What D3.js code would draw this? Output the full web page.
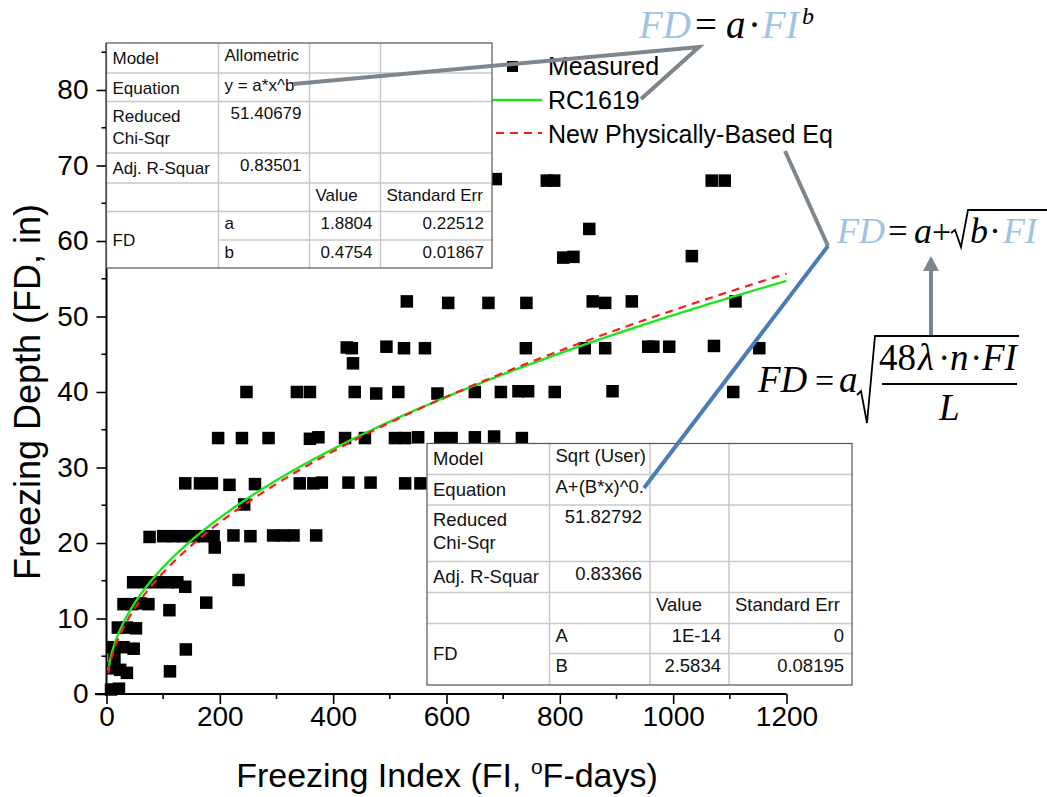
<!DOCTYPE html>
<html>
<head>
<meta charset="utf-8">
<script src="https://cdn.jsdelivr.net/npm/d3@7"></script>
<style>
  html, body { margin: 0; padding: 0; background: #fff; }
  svg { display: block; }
  .sans { font-family: "Liberation Sans", Arial, sans-serif; }
  .serif { font-family: "Liberation Serif", "Times New Roman", serif; }
</style>
</head>
<body>
<script>
// Measured freezing depth (in) against freezing index (°F-days)
const measuredFI = [
  687, 777, 790, 1068, 1091,
  852,
  806, 824, 1033,
  530, 603, 674, 741, 858, 880, 927, 1110,
  424, 433, 494, 525, 562, 740, 844, 880, 956, 965, 993, 1072, 1152,
  435,
  247, 336, 359, 438, 476, 515, 584, 650, 696, 727, 744, 791, 893, 1106,
  197, 239, 286, 359, 374, 421, 456, 509, 527, 550, 589, 609, 650, 684, 733,
  139, 165, 186, 217, 262, 341, 365, 380, 427, 466, 527, 554,
  243,
  76, 100, 118, 136, 154, 172, 189, 191, 224, 254, 294, 312, 330, 370,
  47, 67, 88, 108, 125, 139, 233,
  30, 45, 60, 74, 111, 176,
  20, 36, 52,
  12, 30, 48, 140,
  10, 24, 36, 14, 112,
  8, 22
];
const measuredFD = [
  68.2, 68, 68, 68, 68,
  61.6,
  57.8, 57.9, 58,
  52, 51.8, 51.8, 51.8, 52, 51.8, 52, 52,
  45.9, 45.8, 46, 45.8, 45.8, 45.8, 45.8, 45.8, 46, 46, 46, 46.1, 45.8,
  43.8,
  40, 40, 40, 40, 39.8, 40, 39.8, 40, 40, 40.1, 40.1, 40, 40.1, 40,
  33.9, 33.9, 33.9, 33.8, 34, 33.9, 33.9, 33.9, 33.9, 34, 33.9, 33.9, 34, 34.1, 33.9,
  27.9, 27.9, 27.9, 27.7, 27.8, 27.9, 27.9, 28, 28, 28, 27.9, 27.9,
  25.1,
  20.8, 20.9, 20.9, 20.9, 20.9, 20.9, 20.9, 19.4, 21, 20.9, 21, 21, 21, 21,
  14.8, 14.8, 14.8, 14.8, 14.8, 14.2, 15.1,
  11.9, 11.9, 12, 11.9, 11.1, 12.1,
  8.8, 8.8, 8.7,
  6.2, 6.2, 6.0, 5.9,
  3.4, 3.2, 2.8, 4.8, 3.0,
  0.6, 0.7
];

// Fitted parameters
const allometricParams = { a: 1.8804, b: 0.4754 };   // RC1619: FD = a*FI^b
const sqrtParams = { A: 1e-14, B: 2.5834 };           // FD = A + sqrt(B*FI)

const xTicks = [0, 200, 400, 600, 800, 1000, 1200];
const xMinor = [100, 300, 500, 700, 900, 1100];
const yTicks = [0, 10, 20, 30, 40, 50, 60, 70, 80];
const yMinor = [5, 15, 25, 35, 45, 55, 65, 75, 85];

const legendLabels = ["Measured", "RC1619", "New Physically-Based Eq"];

// Fit-statistics tables
const allometricTable = [
  ["Model", "Allometric", "", ""],
  ["Equation", "y = a*x^b", "", ""],
  ["Reduced\nChi-Sqr", "51.40679", "", ""],
  ["Adj. R-Squar", "0.83501", "", ""],
  ["", "", "Value", "Standard Err"],
  ["FD", "a", "1.8804", "0.22512"],
  ["", "b", "0.4754", "0.01867"]
];
const sqrtTable = [
  ["Model", "Sqrt (User)", "", ""],
  ["Equation", "A+(B*x)^0.", "", ""],
  ["Reduced\nChi-Sqr", "51.82792", "", ""],
  ["Adj. R-Squar", "0.83366", "", ""],
  ["", "", "Value", "Standard Err"],
  ["FD", "A", "1E-14", "0"],
  ["", "B", "2.5834", "0.08195"]
];

const W = 1047, H = 797;
const svg = d3.select("body").append("svg").attr("width", W).attr("height", H);

const x = d3.scaleLinear().domain([0, 1200]).range([106.5, 786.5]);
const y = d3.scaleLinear().domain([0, 80]).range([694, 90]);

// ---- axes ----
const axisColor = "#000";
const gx = svg.append("g").attr("transform", `translate(0,${y(0)})`);
gx.append("line").attr("x1", 95).attr("x2", x(1200)).attr("y1", 0).attr("y2", 0)
  .attr("stroke", axisColor).attr("stroke-width", 2);
gx.call(d3.axisBottom(x).tickValues(xTicks).tickSize(10).tickFormat(d3.format("d")))
  .call(g => g.select(".domain").remove())
  .call(g => g.selectAll(".tick line").attr("stroke", axisColor).attr("stroke-width", 1.6))
  .call(g => g.selectAll(".tick text").attr("class", "sans").attr("font-size", 28)
      .attr("fill", "#000").attr("dy", "0.68em").attr("y", 13));
gx.selectAll(".minor").data(xMinor).enter().append("line")
  .attr("x1", d => x(d)).attr("x2", d => x(d)).attr("y1", 0).attr("y2", 5)
  .attr("stroke", axisColor).attr("stroke-width", 1.6);

const gy = svg.append("g").attr("transform", `translate(${x(0)},0)`);
gy.append("line").attr("x1", 0).attr("x2", 0).attr("y1", y(0) + 1).attr("y2", 43)
  .attr("stroke", axisColor).attr("stroke-width", 2);
gy.call(d3.axisLeft(y).tickValues(yTicks).tickSize(10).tickFormat(d3.format("d")))
  .call(g => g.select(".domain").remove())
  .call(g => g.selectAll(".tick line").attr("stroke", axisColor).attr("stroke-width", 1.6))
  .call(g => g.selectAll(".tick text").attr("class", "sans").attr("font-size", 28)
      .attr("fill", "#000").attr("x", -18));
gy.selectAll(".minor").data(yMinor).enter().append("line")
  .attr("x1", 0).attr("x2", -5).attr("y1", d => y(d)).attr("y2", d => y(d))
  .attr("stroke", axisColor).attr("stroke-width", 1.6);

// axis titles
svg.append("text").attr("class", "sans").attr("font-size", 34)
  .attr("x", 447).attr("y", 787).attr("text-anchor", "middle")
  .html('Freezing Index (FI, <tspan font-size="21" dy="-13">o</tspan><tspan dy="13">F-days)</tspan>');
svg.append("text").attr("class", "sans").attr("font-size", 36)
  .attr("transform", "translate(40,392) rotate(-90)").attr("text-anchor", "middle")
  .text("Freezing Depth (FD, in)");

// ---- measured points ----
const pts = measuredFI.map((v, i) => ({ fi: v, fd: measuredFD[i] }));
const sq = 12.5;
svg.append("g").selectAll("rect").data(pts).enter().append("rect")
  .attr("x", d => x(d.fi) - sq / 2).attr("y", d => y(d.fd) - sq / 2)
  .attr("width", sq).attr("height", sq).attr("fill", "#000");

// ---- fitted curves ----
const fiGrid = d3.range(3, 1200.1, 3);
const green = "#1ee61e", red = "#ff1a1a";
const line = d3.line().x(d => x(d[0])).y(d => y(d[1]));
svg.append("path")
  .attr("d", line(fiGrid.map(f => [f, allometricParams.a * Math.pow(f, allometricParams.b)])))
  .attr("fill", "none").attr("stroke", green).attr("stroke-width", 2.4);
svg.append("path")
  .attr("d", line(fiGrid.map(f => [f, sqrtParams.A + Math.sqrt(sqrtParams.B * f)])))
  .attr("fill", "none").attr("stroke", red).attr("stroke-width", 2.2)
  .attr("stroke-dasharray", "8,6");

// ---- legend ----
const lg = svg.append("g");
lg.append("rect").attr("x", 507).attr("y", 61).attr("width", 11).attr("height", 11).attr("fill", "#000");
lg.append("line").attr("x1", 482).attr("x2", 542).attr("y1", 100).attr("y2", 100)
  .attr("stroke", green).attr("stroke-width", 2.4);
lg.append("line").attr("x1", 482).attr("x2", 542).attr("y1", 133).attr("y2", 133)
  .attr("stroke", red).attr("stroke-width", 2.2).attr("stroke-dasharray", "8,6");
lg.selectAll("text").data(legendLabels).enter().append("text")
  .attr("class", "sans").attr("font-size", 25).attr("x", 548)
  .attr("y", (d, i) => 75 + i * 34).text(d => d);

// ---- tables ----
function drawTable(rows, cols, rowsY, fs, offs) {
  const g = svg.append("g");
  const x0 = cols[0], x1 = cols[cols.length - 1], y0 = rowsY[0], y1 = rowsY[rowsY.length - 1];
  g.append("rect").attr("x", x0).attr("y", y0).attr("width", x1 - x0).attr("height", y1 - y0)
    .attr("fill", "#fff");
  const grid = "#c8c8c8";
  // horizontal rules
  rowsY.slice(1, -1).forEach((ry, i) => {
    const startX = (i === rowsY.length - 3) ? cols[1] : x0; // merged "FD" cell
    g.append("line").attr("x1", startX).attr("x2", x1).attr("y1", ry).attr("y2", ry)
      .attr("stroke", grid).attr("stroke-width", 1.5);
  });
  cols.slice(1, -1).forEach(cx => {
    g.append("line").attr("x1", cx).attr("x2", cx).attr("y1", y0).attr("y2", y1)
      .attr("stroke", grid).attr("stroke-width", 1.5);
  });
  g.append("rect").attr("x", x0).attr("y", y0).attr("width", x1 - x0).attr("height", y1 - y0)
    .attr("fill", "none").attr("stroke", "#555").attr("stroke-width", 1.2);

  rows.forEach((row, r) => {
    row.forEach((txt, c) => {
      if (!txt) return;
      const top = rowsY[r];
      const numeric = /^[0-9.E-]+$/.test(txt) && c > 0;
      let yy = top + (c === 0 ? offs.label : offs.value);
      if (c === 0 && txt === "FD") yy = (rowsY[r] + rowsY[r + 2]) / 2 + 6;
      const t = g.append("text").attr("class", "sans").attr("font-size", fs).attr("fill", "#111");
      if (numeric) t.attr("x", cols[c + 1] - 8).attr("text-anchor", "end");
      else t.attr("x", cols[c] + 6);
      const parts = txt.split("\n");
      parts.forEach((p, k) => {
        t.append("tspan").attr("x", numeric ? cols[c + 1] - 8 : cols[c] + 6)
          .attr("y", yy + k * offs.lead).text(p);
      });
    });
  });
}
drawTable(allometricTable, [106.5, 218.5, 309.5, 380.5, 492], [43, 73, 101.5, 153, 183, 211.5, 240, 268],
  17, { label: 20.5, value: 17.5, lead: 21.5 });
drawTable(sqrtTable, [427, 549.5, 650, 729, 852], [443.5, 474.5, 505, 561.5, 592.5, 623.5, 653.5, 685],
  18.5, { label: 21, value: 18, lead: 23 });

// ---- annotation connectors ----
const gray = "#7d858d", blue = "#4a7db5";
svg.append("polyline").attr("points", "293,84 699,47 641,99")
  .attr("fill", "none").attr("stroke", gray).attr("stroke-width", 4).attr("stroke-linejoin", "miter");
svg.append("line").attr("x1", 785).attr("y1", 151).attr("x2", 828).attr("y2", 246)
  .attr("stroke", gray).attr("stroke-width", 4);
svg.append("line").attr("x1", 828).attr("y1", 246).attr("x2", 644).attr("y2", 488)
  .attr("stroke", blue).attr("stroke-width", 4);
svg.append("line").attr("x1", 931).attr("y1", 336).attr("x2", 931).attr("y2", 268)
  .attr("stroke", gray).attr("stroke-width", 4);
svg.append("path").attr("d", "M923,271 L939,271 L931,256 Z").attr("fill", gray);

// ---- formulas ----
const lightBlue = "#9dc3e6";
function ftext(xp, yp, s, fs, col, ital) {
  return svg.append("text").attr("class", "serif").attr("x", xp).attr("y", yp)
    .attr("font-size", fs).attr("fill", col || "#000")
    .attr("font-style", ital === false ? "normal" : "italic").text(s);
}
// FD = a·FI^b
ftext(639, 38, "FD", 39, lightBlue);
ftext(695, 38, "=", 39, "#000", false);
ftext(726, 38, "a", 39);
ftext(748, 38, "·", 39, "#000", false);
ftext(762, 38, "FI", 39, lightBlue);
ftext(802, 24, "b", 24);

// FD = a + sqrt(b·FI)
ftext(837, 243, "FD", 36, lightBlue);
ftext(888, 243, "=", 35, "#000", false);
ftext(914, 243, "a", 36);
ftext(932, 243, "+", 34, "#000", false);
svg.append("path").attr("d", "M951,233 L955,230 L961,247 L968,210 L1047,210")
  .attr("fill", "none").attr("stroke", "#000").attr("stroke-width", 1.8);
ftext(970, 243, "b", 36);
ftext(989, 243, "·", 36, "#000", false);
ftext(1003, 243, "FI", 36, lightBlue);

// FD = a sqrt(48λ·n·FI / L)
ftext(758, 392, "FD", 37);
ftext(815, 392, "=", 34, "#000", false);
ftext(839, 392, "a", 37);
svg.append("path").attr("d", "M857,395 L861,391 L867,423 L875,336 L1019,336")
  .attr("fill", "none").attr("stroke", "#000").attr("stroke-width", 1.8);
ftext(879, 370, "48", 37, "#000", false);
ftext(918, 370, "λ", 37);
ftext(938, 370, "·", 37, "#000", false);
ftext(950, 370, "n", 37);
ftext(970, 370, "·", 37, "#000", false);
ftext(982, 370, "FI", 37);
svg.append("line").attr("x1", 882).attr("x2", 1017).attr("y1", 384).attr("y2", 384)
  .attr("stroke", "#000").attr("stroke-width", 1.8);
ftext(939, 420, "L", 37);
</script>
</body>
</html>
